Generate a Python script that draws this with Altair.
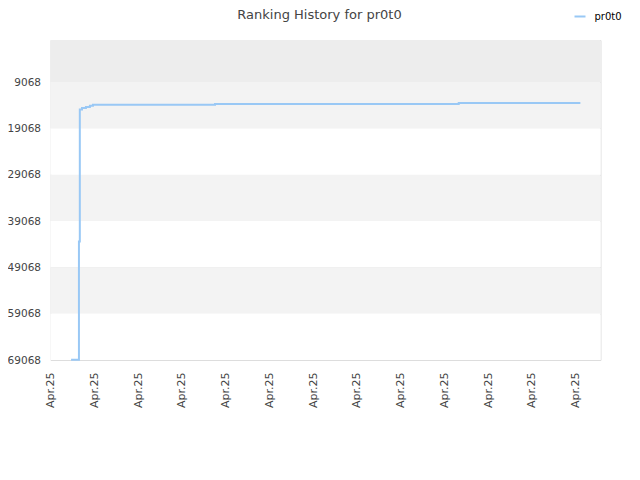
import altair as alt
import pandas as pd

# ---- data ----
t_vals = [0.47, 0.65, 0.67, 0.72, 0.81, 0.90, 0.97, 3.76, 9.33, 12.11]
ranks = [69000, 43500, 15000, 14700, 14450, 14200, 13985, 13790, 13596, 13596]
series_name = "pr0t0"

x_ticks = list(range(13))
x_label = "Apr.25"
y_ticks = [9068, 19068, 29068, 39068, 49068, 59068, 69068]

band_lo = [0, 9068, 19068, 29068, 39068, 49068, 59068]
band_hi = [9068, 19068, 29068, 39068, 49068, 59068, 69068]
band_fill = ["#ededed", "#f3f3f3", "#ffffff", "#f3f3f3", "#ffffff", "#f3f3f3", "#ffffff"]

line_df = pd.DataFrame({"t": t_vals, "rank": ranks, "series": [series_name] * len(t_vals)})
band_df = pd.DataFrame({"lo": band_lo, "hi": band_hi, "fill": band_fill})

x_scale = alt.Scale(domain=[0, 12.57], nice=False, zero=False)
y_scale = alt.Scale(domain=[0, 69068], reverse=True, nice=False, zero=False)

bands = alt.Chart(band_df).mark_rect(strokeWidth=0).encode(
    y=alt.Y("lo:Q", scale=y_scale),
    y2="hi:Q",
    fill=alt.Fill("fill:N", scale=None),
)

line = alt.Chart(line_df).mark_line(interpolate="step-after", strokeWidth=2).encode(
    x=alt.X(
        "t:Q",
        scale=x_scale,
        title=None,
        axis=alt.Axis(
            values=x_ticks,
            labelExpr=f"'{x_label}'",
            labelAngle=-90,
            grid=False,
            ticks=False,
            domain=False,
            labelPadding=12,
            labelFontSize=11,
            labelColor="#444444",
        ),
    ),
    y=alt.Y(
        "rank:Q",
        scale=y_scale,
        title=None,
        axis=alt.Axis(
            values=y_ticks,
            format="d",
            grid=True,
            gridColor="#dddddd",
            ticks=False,
            domain=False,
            labelPadding=10,
            labelFontSize=10.5,
            labelColor="#444444",
        ),
    ),
    color=alt.Color(
        "series:N",
        scale=alt.Scale(range=["#99c8f5"]),
        legend=alt.Legend(
            title=None,
            orient="none",
            legendX=523,
            legendY=-30,
            padding=0,
            symbolType="stroke",
            symbolSize=121,
            symbolStrokeWidth=2,
            labelOffset=8,
            labelFontSize=10,
            labelColor="#000000",
        ),
    ),
)

chart = (
    alt.layer(bands, line)
    .properties(
        width=550,
        height=320,
        title=alt.TitleParams(
            "Ranking History for pr0t0",
            fontSize=13,
            fontWeight="normal",
            color="#444444",
            offset=0,
            dy=12,
            dx=-6,
            anchor="middle",
        ),
        autosize=alt.AutoSizeParams(type="none"),
        padding={"left": 42.5, "top": 32, "right": 31.5, "bottom": 100},
    )
    .configure(font="DejaVu Sans")
    .configure_view(stroke="#dddddd")
)

chart.save("out.html", embed_options={"renderer": "svg", "actions": False})
